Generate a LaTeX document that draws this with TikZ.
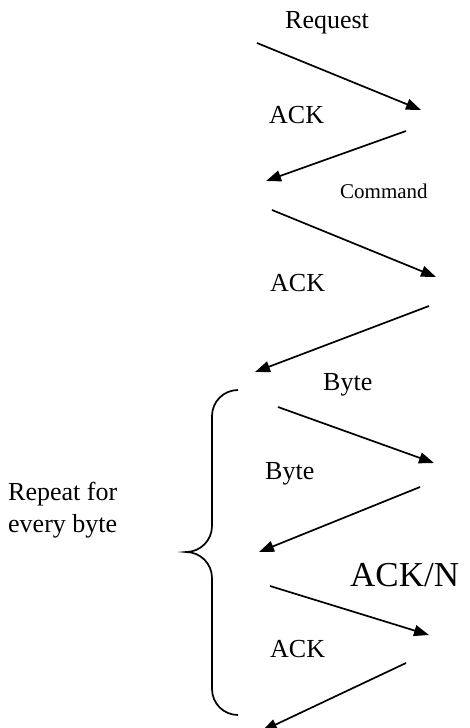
\documentclass[tikz,border=0pt]{standalone}
\usepackage{fontspec}
\setmainfont{Liberation Serif}
\usetikzlibrary{arrows.meta}
\begin{document}
\begin{tikzpicture}[x=1pt,y=-1pt,
  lbl/.style={anchor=base west, inner sep=0pt, font=\fontsize{26}{32}\selectfont},
  msg/.style={line width=1.7pt, -{Triangle[length=15pt,width=11pt]}},
  brace/.style={line width=1.7pt}]
\useasboundingbox (0,0) rectangle (469,728);
% labels
\node[lbl] (req) at (285,28) {Request};
\node[lbl] (ack1) at (269,123) {ACK};
\node[lbl, font=\fontsize{21}{25}\selectfont] (cmd) at (340,198) {Command};
\node[lbl] (ack2) at (270,291) {ACK};
\node[lbl] (byte1) at (323,390) {Byte};
\node[lbl] (byte2) at (265,479) {Byte};
\node[lbl, align=left, anchor=base west] (rep) at (8,532) {Repeat for\\every byte};
\node[lbl, font=\fontsize{35}{40}\selectfont] (ackn) at (350,586) {ACK/N};
\node[lbl] (ack3) at (270,657) {ACK};
% coordinates of the message arrows
\coordinate (a1s) at (257,43);  \coordinate (a1e) at (421,110);
\coordinate (a2s) at (406,131); \coordinate (a2e) at (266,181);
\coordinate (a3s) at (272,210); \coordinate (a3e) at (436,277);
\coordinate (a4s) at (429,306); \coordinate (a4e) at (255,372);
\coordinate (a5s) at (278,407); \coordinate (a5e) at (434,463);
\coordinate (a6s) at (420,487); \coordinate (a6e) at (259,552);
\coordinate (a7s) at (270,586); \coordinate (a7e) at (429,635);
\coordinate (a8s) at (406,663); \coordinate (a8e) at (262,731);
\foreach \i in {1,...,8} \draw[msg] (a\i s) -- (a\i e);
% brace
\coordinate (bt) at (238,390);
\coordinate (bm) at (186,552);
\coordinate (bb) at (238,715);
\draw[brace] (bt) arc[start angle=270,end angle=180,radius=26]
  -- (212,526) arc[start angle=0,end angle=90,radius=26]
  arc[start angle=270,end angle=360,radius=26]
  -- (212,689) arc[start angle=180,end angle=90,radius=26];
\end{tikzpicture}
\end{document}
